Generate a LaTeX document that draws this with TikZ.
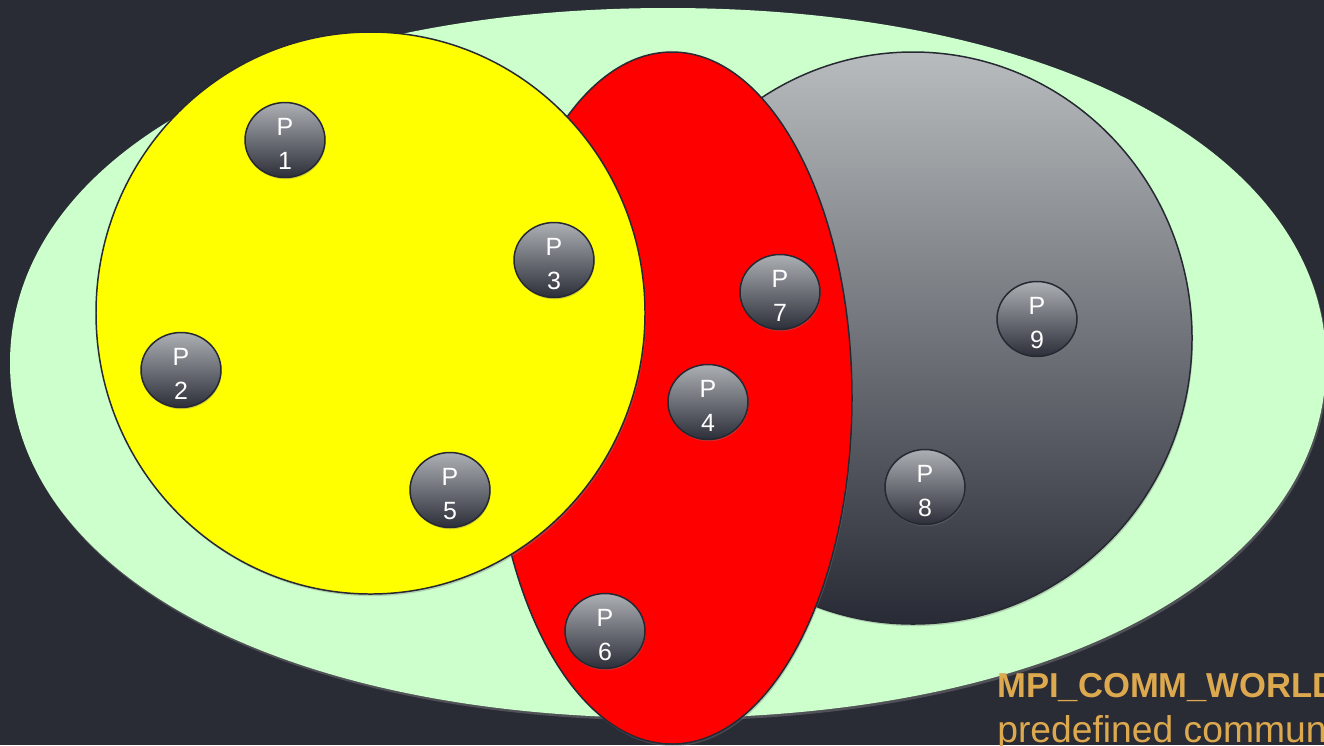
\documentclass[tikz,border=0pt]{standalone}
\usepackage{fontspec}
\setmainfont{Liberation Sans}
\usetikzlibrary{shapes.geometric,shadows}
\definecolor{bg}{RGB}{41,43,53}
\definecolor{world}{RGB}{204,255,204}
\definecolor{ylw}{RGB}{255,255,0}
\definecolor{rd}{RGB}{255,0,0}
\definecolor{gtop}{RGB}{184,188,190}
\definecolor{gbot}{RGB}{40,43,53}
\definecolor{ptop}{RGB}{172,175,179}
\definecolor{pbot}{RGB}{44,47,57}
\definecolor{edge}{RGB}{38,40,50}
\definecolor{lbl}{RGB}{221,169,79}
\newcommand{\ptxt}[1]{\rule{0pt}{14.2pt}P\\#1}
\tikzset{
  region/.style={draw=edge, line width=0.85pt, drop shadow={shadow xshift=0.6pt, shadow yshift=-1.2pt, opacity=0.35}},
  pnode/.style={ellipse, draw=edge, line width=0.85pt, top color=ptop, bottom color=pbot,
    minimum width=1.6cm, minimum height=1.5cm, inner sep=-8pt, align=center, text=white,
    font=\fontsize{14.2}{19.3}\selectfont,
    drop shadow={shadow xshift=0.4pt, shadow yshift=-1pt, opacity=0.35}},
  lbltext/.style={anchor=base west, text=lbl, inner sep=0pt}
}
\begin{document}
\begin{tikzpicture}[x=0.02cm,y=-0.02cm]
\useasboundingbox (0,0) rectangle (1324,745);
\fill[bg] (0,0) rectangle (1324,745);
\clip (0,0) rectangle (1324,745);
% world
\path[fill=world, drop shadow={shadow xshift=0.8pt, shadow yshift=-1.5pt, opacity=0.45}]
  (1326,363) .. controls (1326,153.55) and (1056.2,8) .. (668,8)
  .. controls (279.8,8) and (10,153.55) .. (10,363)
  .. controls (10,572.45) and (279.8,718) .. (668,718)
  .. controls (1056.2,718) and (1326,572.45) .. (1326,363) -- cycle;
% grey group
\path[region, top color=gtop, bottom color=gbot] (913,338) ellipse [x radius=279, y radius=286];
% red group
\path[region, fill=rd] (672,398) ellipse [x radius=180, y radius=346];
% yellow group
\path[region, fill=ylw] (370.5,313) ellipse [x radius=274.5, y radius=281];
% processes
\node[pnode] (p1) at (285,140) {\ptxt{1}};
\node[pnode] (p3) at (554,260) {\ptxt{3}};
\node[pnode] (p2) at (181,370) {\ptxt{2}};
\node[pnode] (p5) at (450,490) {\ptxt{5}};
\node[pnode] (p7) at (780,292) {\ptxt{7}};
\node[pnode] (p4) at (708,402) {\ptxt{4}};
\node[pnode] (p6) at (605,631) {\ptxt{6}};
\node[pnode] (p9) at (1037,319) {\ptxt{9}};
\node[pnode] (p8) at (925,487) {\ptxt{8}};
% label
\node[lbltext, font=\fontsize{19.7}{24}\selectfont] (lbl1) at (997,697) {\textbf{MPI\_COMM\_WORLD}};
\node[lbltext, font=\fontsize{21.2}{25}\selectfont] (lbl2) at (997,742) {predefined communicator};
\end{tikzpicture}
\end{document}
